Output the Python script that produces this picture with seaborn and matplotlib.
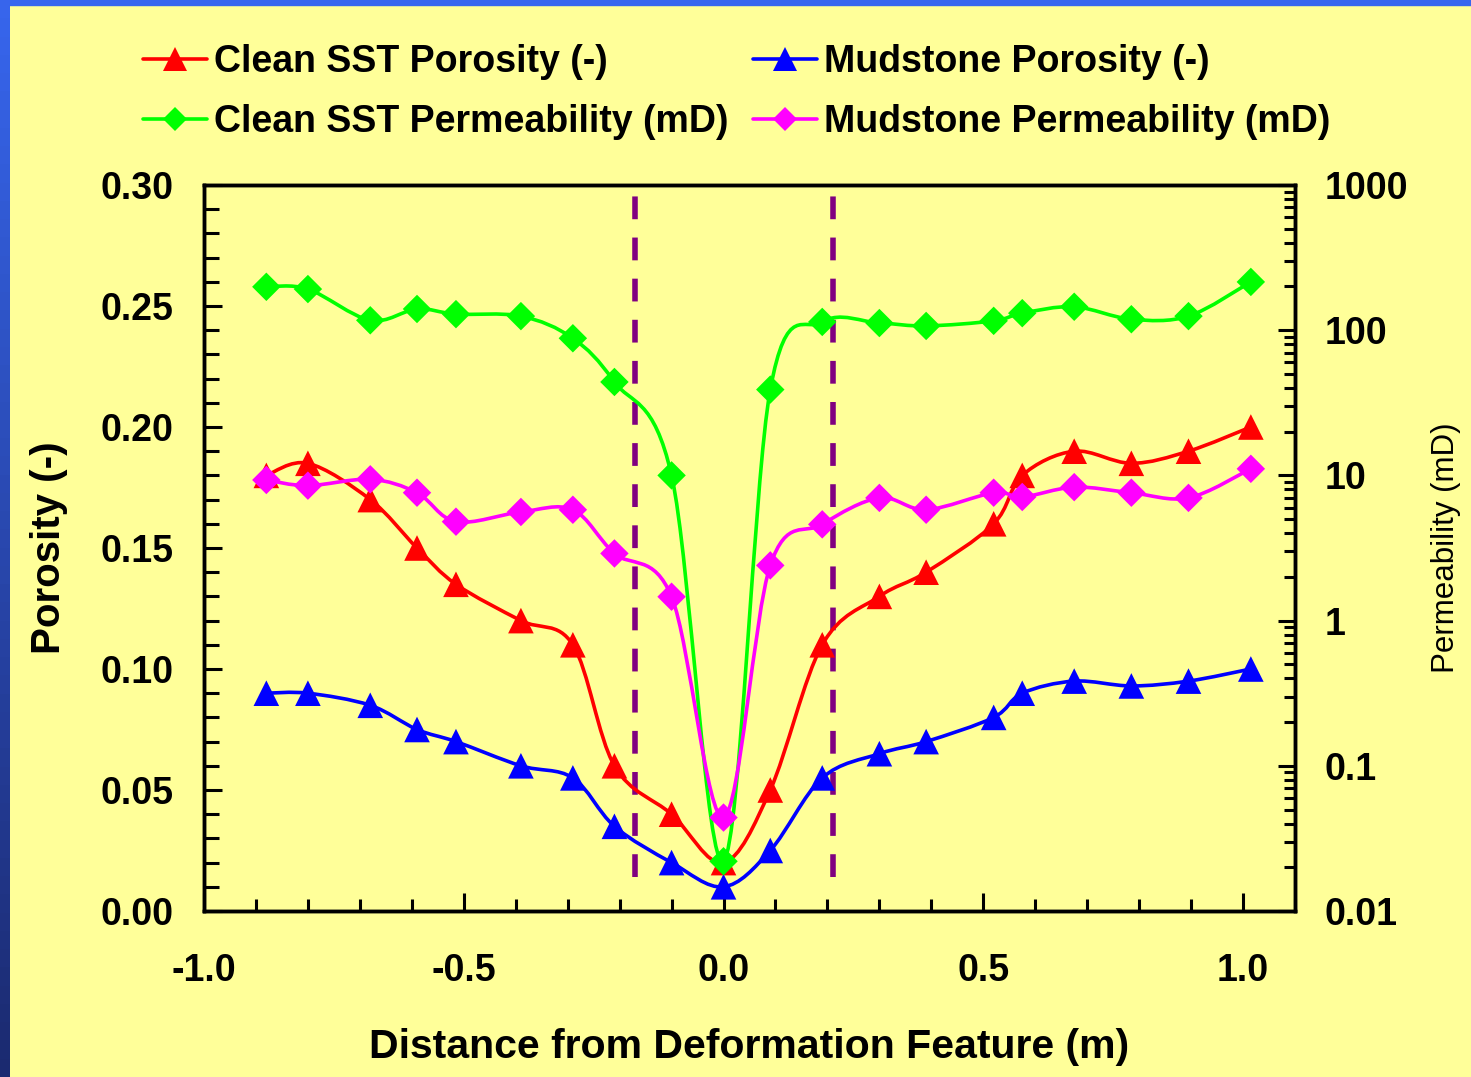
import numpy as np
import pandas as pd
import seaborn as sns
import matplotlib.pyplot as plt
from matplotlib.path import Path
from matplotlib.patches import PathPatch, Rectangle
from matplotlib.lines import Line2D
from matplotlib.ticker import MultipleLocator, LogLocator, FuncFormatter, NullFormatter
from matplotlib.colors import LinearSegmentedColormap

# values
distance = [-0.88, -0.80, -0.68, -0.59, -0.515, -0.39, -0.29, -0.21, -0.10, 0.0,
            0.09, 0.19, 0.30, 0.39, 0.52, 0.575, 0.675, 0.785, 0.895, 1.015]
clean_porosity = [0.18, 0.185, 0.17, 0.15, 0.135, 0.12, 0.11, 0.06, 0.04, 0.02,
                  0.05, 0.11, 0.13, 0.14, 0.16, 0.18, 0.19, 0.185, 0.19, 0.20]
mud_porosity = [0.09, 0.09, 0.085, 0.075, 0.07, 0.06, 0.055, 0.035, 0.02, 0.01,
                0.025, 0.055, 0.065, 0.07, 0.08, 0.09, 0.095, 0.093, 0.095, 0.10]
clean_perm = [199, 192, 117, 140, 129, 125, 88, 44, 10, 0.022,
              39, 114, 112, 107, 116, 131, 145, 119, 125, 215]
mud_perm = [9.3, 8.5, 9.4, 7.6, 4.8, 5.6, 5.8, 2.9, 1.46, 0.044,
            2.4, 4.6, 7.0, 5.8, 7.6, 7.1, 8.3, 7.6, 7.0, 11.1]
zone_edges = [-0.17, 0.21]

labels = ["Clean SST Porosity (-)", "Mudstone Porosity (-)",
          "Clean SST Permeability (mD)", "Mudstone Permeability (mD)"]
colors = ["#FF0000", "#0000FF", "#00FF00", "#FF00FF"]
markers = ["^", "^", "D", "D"]

bg = "#FFFF99"


def smooth_path(x, y, log=False):
    # Excel style smoothed line: cubic bezier through the points
    x = np.asarray(x, float)
    y = np.asarray(y, float)
    if log:
        y = np.log10(y)
    pts = np.column_stack([x, y])
    n = len(pts)
    verts = [pts[0]]
    codes = [Path.MOVETO]
    for i in range(n - 1):
        p0 = pts[max(i - 1, 0)]
        p1 = pts[i]
        p2 = pts[i + 1]
        p3 = pts[min(i + 2, n - 1)]
        verts += [p1 + (p2 - p0) / 6, p2 - (p3 - p1) / 6, p2]
        codes += [Path.CURVE4] * 3
    verts = np.array(verts)
    if log:
        verts[:, 1] = 10 ** verts[:, 1]
    return Path(verts, codes)


sns.set_theme(style="ticks")
plt.rcParams["font.family"] = ["Liberation Sans", "DejaVu Sans"]
plt.rcParams["font.weight"] = "bold"
plt.rcParams["text.color"] = "black"
plt.rcParams["axes.labelcolor"] = "black"
plt.rcParams["xtick.color"] = "black"
plt.rcParams["ytick.color"] = "black"

fig = plt.figure(figsize=(14.71, 10.77), dpi=100, facecolor=bg)
ax = fig.add_axes([204 / 1471, 1 - 911 / 1077, 1091 / 1471, 726 / 1077])
ax.set_facecolor(bg)
ax2 = ax.twinx()

# blue slide border
grad = LinearSegmentedColormap.from_list("edge", ["#3766EE", "#1B2A70"])
fig.patches.append(Rectangle((0, 1 - 5 / 1077), 1, 5 / 1077, transform=fig.transFigure,
                             color="#3766EE", zorder=-1))
ys = np.linspace(0, 1, 60)
for k in range(len(ys) - 1):
    fig.patches.append(Rectangle((0, ys[k]), 10 / 1471, ys[k + 1] - ys[k] + 0.001,
                                 transform=fig.transFigure, lw=0,
                                 color=grad(1 - ys[k]), zorder=-1))

ax.vlines(zone_edges, 0.014, 0.30, colors="#800080", linestyles=(0, (4.1, 3.3)),
          lw=4, zorder=2)

df_por = pd.DataFrame({"x": distance * 2,
                       "y": clean_porosity + mud_porosity,
                       "s": [labels[0]] * len(distance) + [labels[1]] * len(distance)})
df_perm = pd.DataFrame({"x": distance * 2,
                        "y": clean_perm + mud_perm,
                        "s": [labels[2]] * len(distance) + [labels[3]] * len(distance)})

for vals, lab, c, axis, log in [(clean_porosity, labels[0], colors[0], ax, False),
                                (mud_porosity, labels[1], colors[1], ax, False),
                                (clean_perm, labels[2], colors[2], ax2, True),
                                (mud_perm, labels[3], colors[3], ax2, True)]:
    axis.add_patch(PathPatch(smooth_path(distance, vals, log), fill=False,
                             edgecolor=c, lw=2.6, zorder=3))

sns.scatterplot(data=df_por, x="x", y="y", hue="s", style="s",
                palette=colors[:2], markers=markers[:2], s=340, linewidth=0,
                ax=ax, legend=False, zorder=4)
sns.scatterplot(data=df_perm, x="x", y="y", hue="s", style="s",
                palette=colors[2:], markers=markers[2:], s=210, linewidth=0,
                ax=ax2, legend=False, zorder=4)

ax.set_xlim(-1.0, 1.1)
ax.set_ylim(0, 0.30)
ax2.set_yscale("log")
ax2.set_ylim(0.01, 1000)

ax.xaxis.set_major_locator(MultipleLocator(0.5))
ax.xaxis.set_minor_locator(MultipleLocator(0.1))
ax.yaxis.set_major_locator(MultipleLocator(0.05))
ax.yaxis.set_minor_locator(MultipleLocator(0.01))
ax.xaxis.set_major_formatter(FuncFormatter(lambda v, p: f"{v:.1f}"))
ax.yaxis.set_major_formatter(FuncFormatter(lambda v, p: f"{v:.2f}"))
ax2.yaxis.set_major_locator(LogLocator(base=10, numticks=10))
ax2.yaxis.set_minor_locator(LogLocator(base=10, subs=np.arange(2, 10), numticks=20))
ax2.yaxis.set_major_formatter(FuncFormatter(lambda v, p: f"{v:g}"))
ax2.yaxis.set_minor_formatter(NullFormatter())

ax.tick_params(axis="x", which="major", direction="in", length=13, width=2.2,
               labelsize=27, pad=30, colors="black")
ax.tick_params(axis="x", which="minor", direction="in", length=9, width=2.2)
ax.tick_params(axis="y", which="major", direction="in", length=13, width=2.2,
               labelsize=27, pad=22, colors="black")
ax.tick_params(axis="y", which="minor", direction="in", length=11, width=2.2)
ax2.tick_params(axis="y", which="major", direction="in", length=12, width=2.2,
                labelsize=27, pad=21, colors="black")
ax2.tick_params(axis="y", which="minor", direction="in", length=8, width=2.2)

for a in (ax, ax2):
    for sp in a.spines.values():
        sp.set_linewidth(2.5)
        sp.set_color("black")
    a.grid(False)

ax.set_xlabel("Distance from Deformation Feature (m)", fontsize=29.5,
              fontweight="bold", labelpad=28)
ax.set_ylabel("Porosity (-)", fontsize=29, fontweight="bold", labelpad=23)
ax2.set_ylabel("Permeability (mD)", fontsize=22.5, fontweight="normal", labelpad=17)

handles = [Line2D([], [], color=colors[i], lw=2.6, marker=markers[i],
                  markersize=17 if markers[i] == "^" else 12.5, markeredgewidth=0)
           for i in (0, 2, 1, 3)]
fig.legend(handles, [labels[i] for i in (0, 2, 1, 3)], ncol=2, frameon=False,
           loc="upper left", bbox_to_anchor=(109 / 1471, 1 - 10 / 1077),
           fontsize=27, handlelength=1.7, handletextpad=0.2, columnspacing=0.65,
           labelspacing=0.64)

fig.savefig("out.png", dpi=100, facecolor=bg)
